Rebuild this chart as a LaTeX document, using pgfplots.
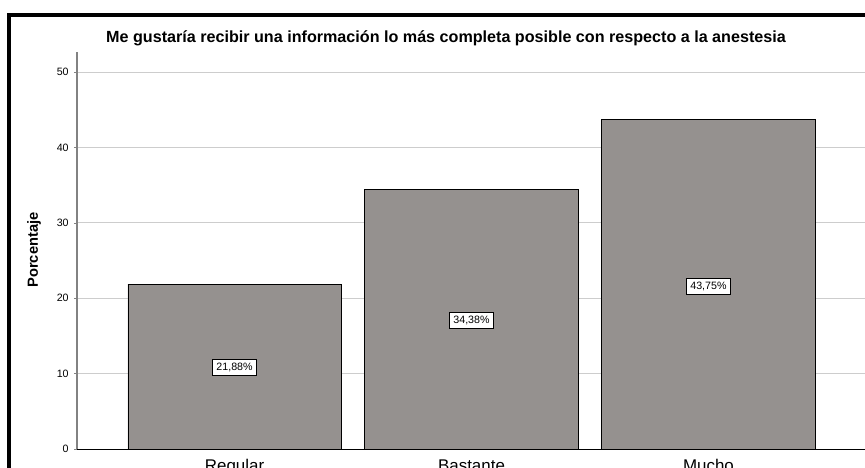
\documentclass[border=0pt]{standalone}
\usepackage{pgfplots}
\pgfplotsset{compat=1.18}
\usepackage{fontspec}
\setmainfont{Liberation Sans}
\definecolor{barfill}{RGB}{149,145,143}
\definecolor{gridc}{RGB}{205,205,205}
\definecolor{yaxc}{RGB}{130,130,130}
\begin{document}
\begin{tikzpicture}
\path[use as bounding box] (0pt,0pt) rectangle (648.75pt,351pt);
\draw[line width=3pt] (6.75pt,-15pt) -- (6.75pt,339.75pt) -- (680pt,339.75pt);
\node[font=\fontsize{12.1}{14}\selectfont\bfseries] at (334.5pt,322.5pt) {Me gustaría recibir una información lo más completa posible con respecto a la anestesia};
\node[font=\fontsize{11}{13}\selectfont\bfseries, rotate=90] at (25.5pt,163.5pt) {Porcentaje};
\begin{axis}[
  at={(57.75pt,14.25pt)}, anchor=south west,
  scale only axis, width=591.75pt, height=297.75pt,
  xmin=-0.665, xmax=2.665, ymin=0, ymax=52.65,
  axis x line*=bottom, axis y line*=left,
  x axis line style={black, -},
  y axis line style={yaxc, line width=0.8pt, -},
  xtick={0,1,2}, xticklabels={Regular,Bastante,Mucho},
  xtick style={draw=none},
  ytick={0,10,...,50},
  ytick style={yaxc},
  tick align=outside, major tick length=2.25pt,
  ymajorgrids, grid style={gridc, line width=0.6pt},
  yticklabel style={font=\fontsize{8}{9}\selectfont, xshift=-0.5pt},
  xticklabel style={font=\fontsize{12.7}{14}\selectfont, anchor=north, yshift=-2pt},
  /pgf/number format/assume math mode=true,
  clip=false,
]
\addplot[ybar, bar width=0.9, fill=barfill, draw=black, line width=0.6pt] coordinates {(0,21.88) (1,34.38) (2,43.75)};
\addplot[draw=none, mark=none, nodes near coords, point meta=explicit symbolic,
  every node near coord/.style={anchor=center, draw=black, fill=white, line width=0.7pt, inner xsep=3pt, inner ysep=2.6pt, font=\fontsize{8}{9}\selectfont}]
  coordinates {(0,10.8) [21,88\%] (1,17.0) [34,38\%] (2,21.6) [43,75\%]};
\end{axis}
\end{tikzpicture}
\end{document}
